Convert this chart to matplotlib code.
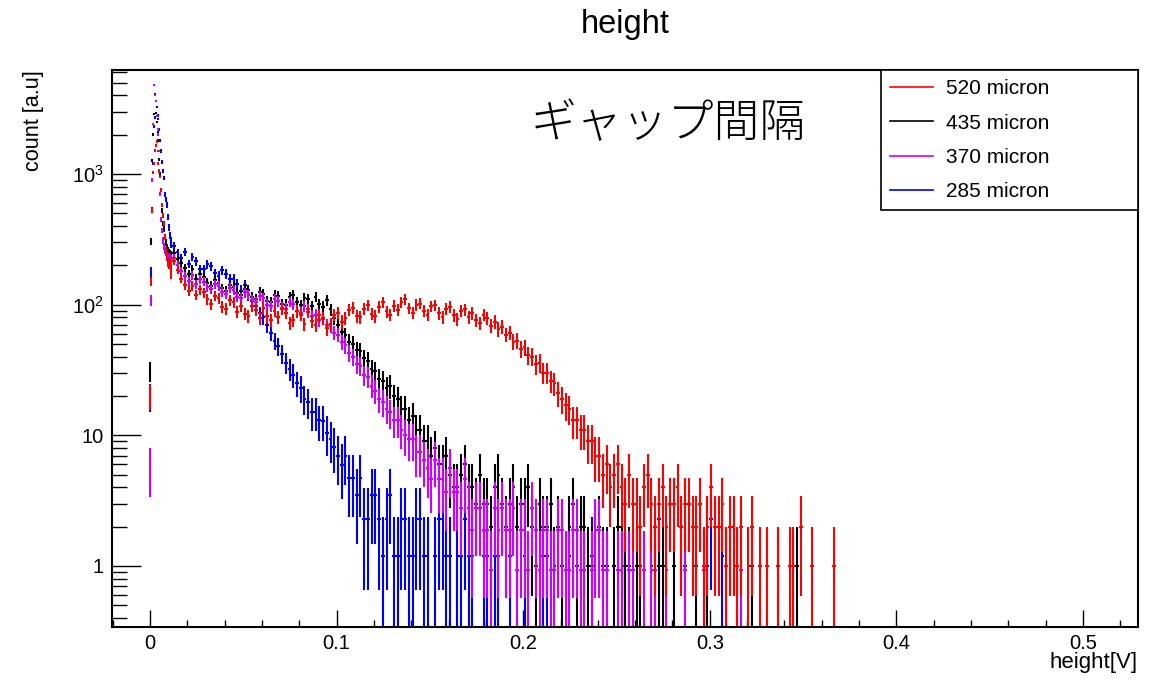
import numpy as np
import matplotlib
matplotlib.use("Agg")
import matplotlib.pyplot as plt
from matplotlib.lines import Line2D
from matplotlib.ticker import FixedLocator, LogLocator, MultipleLocator, NullFormatter, FuncFormatter

plt.rcParams['font.family'] = ['Liberation Sans', 'DejaVu Sans']
plt.rcParams['mathtext.fontset'] = 'custom'
plt.rcParams['mathtext.rm'] = 'Liberation Sans'
plt.rcParams['mathtext.default'] = 'regular'

# bin layout: narrow bins over the pedestal spike, wider bins after it
spike_edges = -0.00025 + 0.0005 * np.arange(25)
tail_edges = 0.01175 + 0.002 * np.arange(181)

labels = ["520 micron", "435 micron", "370 micron", "285 micron"]
colors = ["#ff0000", "#000000", "#cc00ff", "#0000ff"]
# histogram normalisation (a.u. per entry), used for the error bars
norms = [1.0, 1.0, 0.93, 1.17]

# --- 520 micron (red)
red_spike = [20, 150, 530, 1030, 1200, 1520, 1650, 1770, 1500, 1210, 1050, 960,
             750, 580, 480, 420, 330, 260, 230, 210, 200, 215, 190, 170]
red_tail = [215, 185, 158, 142, 128, 140, 119, 131, 124, 110, 101, 117, 112, 96, 93, 108, 104, 88, 97, 85,
            82, 97, 91, 79, 95, 82, 76, 90, 80, 93, 87, 72, 76, 89, 84, 71, 88, 75, 70, 83,
            79, 66, 71, 84, 87, 74, 79, 91, 95, 82, 80, 93, 99, 85, 82, 96, 104, 89, 84, 98,
            91, 104, 110, 94, 87, 100, 102, 90, 84, 97, 99, 86, 80, 93, 96, 83, 78, 90, 92, 80,
            86, 76, 72, 84, 79, 69, 74, 65, 68, 59, 61, 52, 53, 46, 47, 41, 40, 35, 36, 30,
            30, 26, 25, 21, 19, 17, 16, 13, 13, 11, 11, 9, 9, 7, 7, 5, 6, 4, 5, 6,
            4, 3, 5, 3, 3, 2, 4, 5, 3, 2, 3, 4, 2, 3, 3, 4, 2, 3, 3, 2,
            2, 3, 1, 2, 4, 2, 2, 3, 1, 2, 2, 1, 2, 0, 1, 2, 0, 1, 0, 1,
            0, 0, 1, 0, 0, 1, 1, 0, 2, 0, 0, 1, 0, 0, 0, 0, 0, 1, 0, 0]

# --- 435 micron (black)
black_spike = [31, 305, 1260, 2000, 2900, 4100, 2930, 2500, 2100, 1800, 1300, 1000,
               750, 530, 420, 380, 330, 300, 275, 260, 250, 245, 240, 238]
black_tail = [248, 222, 208, 190, 172, 188, 158, 171, 162, 147, 139, 154, 146, 133, 128, 141, 137, 122, 119, 132,
              129, 114, 110, 125, 121, 107, 104, 119, 116, 101, 100, 115, 118, 104, 99, 112, 110, 97, 115, 101,
              96, 108, 92, 79, 70, 62, 59, 52, 50, 45, 44, 39, 37, 32, 31, 27, 26, 23, 24, 20,
              19, 16, 16, 13, 14, 11, 11, 9, 9, 7, 8, 6, 6, 7, 5, 4, 4, 5, 6, 4,
              4, 3, 5, 3, 3, 2, 4, 5, 3, 2, 3, 4, 2, 3, 3, 4, 2, 1, 3, 2,
              2, 3, 1, 2, 1, 0, 2, 3, 1, 2, 2, 1, 1, 0, 2, 1, 1, 0, 1, 2,
              2, 1, 1, 0, 1, 1, 0, 0, 1, 0, 1, 1, 0, 0, 1, 0, 0, 1, 0, 0,
              1, 0, 0, 1, 0, 0, 0, 0, 1, 0, 0, 0, 0, 0, 0, 1, 0, 0, 0, 0,
              0, 0, 1, 0, 0, 0, 0, 1, 0, 0, 0, 0, 0, 0, 0, 0, 0, 0, 0, 0]

# --- 370 micron (violet)
violet_spike = [5.7, 108, 900, 2400, 4800, 4000, 3600, 2800, 2200, 2000, 1500, 700,
                450, 370, 310, 280, 260, 250, 240, 235, 230, 228, 225, 220]
violet_tail = [228, 202, 182, 166, 152, 168, 143, 157, 150, 136, 131, 144, 139, 125, 121, 134, 129, 115, 112, 124,
               120, 108, 104, 117, 113, 100, 98, 110, 106, 95, 93, 105, 101, 90, 87, 97, 92, 82, 84, 76,
               78, 70, 69, 61, 59, 52, 49, 43, 40, 35, 34, 29, 28, 24, 22, 19, 18, 16, 15, 13,
               13, 11, 10, 9.3, 9.3, 7.4, 7.4, 6.5, 5.6, 4.6, 6.5, 4.6, 4.6, 3.7, 5.6, 3.7, 3.7, 2.8, 4.6, 2.8,
               1.9, 2.8, 2.8, 1.9, 1.9, 0.93, 2.8, 1.9, 2.8, 1.9, 1.9, 2.8, 0.93, 1.9, 1.9, 0.93, 2.8, 1.9, 0.93, 1.9,
               1.9, 0.93, 0.93, 1.9, 1.9, 0.93, 0.93, 1.9, 1.9, 0.93, 0.93, 0, 0.93, 1.9, 1.9, 0.93, 0.93, 0, 0, 0.93,
               0.93, 0, 0.93, 0.93, 0, 0, 0.93, 0, 0.93, 0.93, 0, 0, 0.93, 0, 0, 0, 0, 0.93, 0, 0,
               0, 0, 0.93, 0, 0, 0, 0, 0, 0, 0, 0, 0, 0.93, 0, 0, 0, 0, 0, 0, 0,
               0, 0, 0, 0, 0, 0, 0, 0, 0, 0, 0, 0, 0, 0, 0, 0, 0, 0, 0, 0]

# --- 285 micron (blue)
blue_spike = [20, 178, 530, 1200, 2300, 2700, 2930, 3250, 2800, 2650, 2200, 1800,
              1500, 1240, 1050, 930, 700, 640, 580, 470, 390, 340, 310, 290]
blue_tail = [282, 251, 228, 252, 205, 231, 214, 188, 186, 204, 196, 174, 166, 184, 172, 158, 157, 143, 128, 142,
             118, 106, 98, 86, 80, 70, 61, 53, 48, 42, 36, 32, 29, 25, 23, 19, 18, 15, 15, 13,
             12.9, 10.5, 9.4, 8.2, 7, 5.9, 7, 4.7, 4.7, 3.5, 4.7, 2.3, 2.3, 3.5, 3.5, 2.3, 1.2, 2.3, 3.5, 1.2,
             1.2, 2.3, 2.3, 1.2, 1.2, 2.3, 2.3, 1.2, 1.2, 0, 1.2, 2.3, 2.3, 1.2, 1.2, 0, 1.2, 1.2, 2.3, 1.2,
             1.2, 0, 0, 1.2, 1.2, 0, 1.2, 1.2, 0, 0, 1.2, 0, 0, 0, 1.2, 0, 0, 0, 0, 1.2,
             1.2, 0, 0, 0, 0, 0, 1.2, 0, 0, 0, 0, 0, 1.2, 0, 0, 0, 0, 0, 0, 0,
             0, 0, 0, 0, 0, 0, 0, 0, 0, 0, 2.3, 0, 0, 0, 0, 0, 0, 0, 0, 0,
             0, 0, 0, 0, 2.3, 0, 0, 1.2, 0, 0, 0, 0, 0, 0, 0, 0, 0, 0, 0, 0,
             0, 0, 0, 0, 0, 0, 0, 0, 0, 0, 0, 0, 0, 0, 0, 0, 0, 0, 0, 0]

series = [red_spike + red_tail, black_spike + black_tail,
          violet_spike + violet_tail, blue_spike + blue_tail]


def draw_hist(ax, values, norm, color):
	edges = np.concatenate([spike_edges, tail_edges[1:]])
	centers = 0.5 * (edges[:-1] + edges[1:])
	half = 0.5 * np.diff(edges)
	v = np.asarray(values, dtype=float)
	keep = v > 0
	err = np.sqrt(v * norm)
	lo = np.minimum(err, v - 1e-3)
	ax.errorbar(centers[keep], v[keep], xerr=half[keep], yerr=[lo[keep], err[keep]],
	            fmt='none', ecolor=color, elinewidth=1.5, capsize=0)


fig = plt.figure(figsize=(11.58, 6.79), dpi=100)
ax = fig.add_axes([0.0967, 0.0766, 0.886, 0.8203])
ax.set_yscale('log')

# draw order: blue at the back, red on top
for i in [3, 1, 2, 0]:
	draw_hist(ax, series[i], norms[i], colors[i])

ax.set_xlim(-0.0204, 0.5295)
ax.set_ylim(0.341, 6250)

ax.xaxis.set_major_locator(MultipleLocator(0.1))
ax.xaxis.set_minor_locator(MultipleLocator(0.02))
ax.xaxis.set_major_formatter(FuncFormatter(lambda x, p: "0" if abs(x) < 1e-9 else "%g" % x))
ax.yaxis.set_major_locator(FixedLocator([1, 10, 100, 1000]))
ax.yaxis.set_major_formatter(FuncFormatter(
	lambda y, p: {1: "1", 10: "10", 100: r"$10^{2}$", 1000: r"$10^{3}$"}.get(int(round(y)), "")))
ax.yaxis.set_minor_locator(LogLocator(base=10, subs=np.arange(2, 10), numticks=20))
ax.yaxis.set_minor_formatter(NullFormatter())

ax.tick_params(axis='x', which='major', direction='in', length=12, width=1, labelsize=14.5, pad=5)
ax.tick_params(axis='x', which='minor', direction='in', length=5, width=1)
ax.tick_params(axis='y', which='major', direction='in', length=21, width=1, labelsize=14.5, pad=6)
ax.tick_params(axis='y', which='minor', direction='in', length=10.5, width=1)
ax.tick_params(top=False, right=False, which='both')
for s in ax.spines.values():
	s.set_linewidth(1.5)

handles = [Line2D([], [], color=c, lw=1.2) for c in colors]
leg = ax.legend(handles, labels, loc='upper left', bbox_to_anchor=(0.7495, 0.0, 0.2505, 1.0),
                mode='expand', borderaxespad=0, fancybox=False, framealpha=1, edgecolor='black',
                fontsize=15, handlelength=2.07, handletextpad=0.58, labelspacing=0.73, borderpad=0.45)
leg.get_frame().set_linewidth(1.2)

ax.text(0.542, 0.902, "ギャップ間隔", transform=ax.transAxes, ha='center', va='center',
        fontsize=33, family=['Noto Sans CJK JP', 'DejaVu Sans'], fontweight='light')

fig.text(0.5397, 0.964, "height", ha='center', va='center', fontsize=23.5)
fig.text(0.9827, 0.0236, "height[V]", ha='right', va='center', fontsize=16)
fig.text(0.0285, 0.897, "count [a.u]", rotation=90, ha='center', va='top', fontsize=15.6)

fig.savefig("out.png", dpi=100)
